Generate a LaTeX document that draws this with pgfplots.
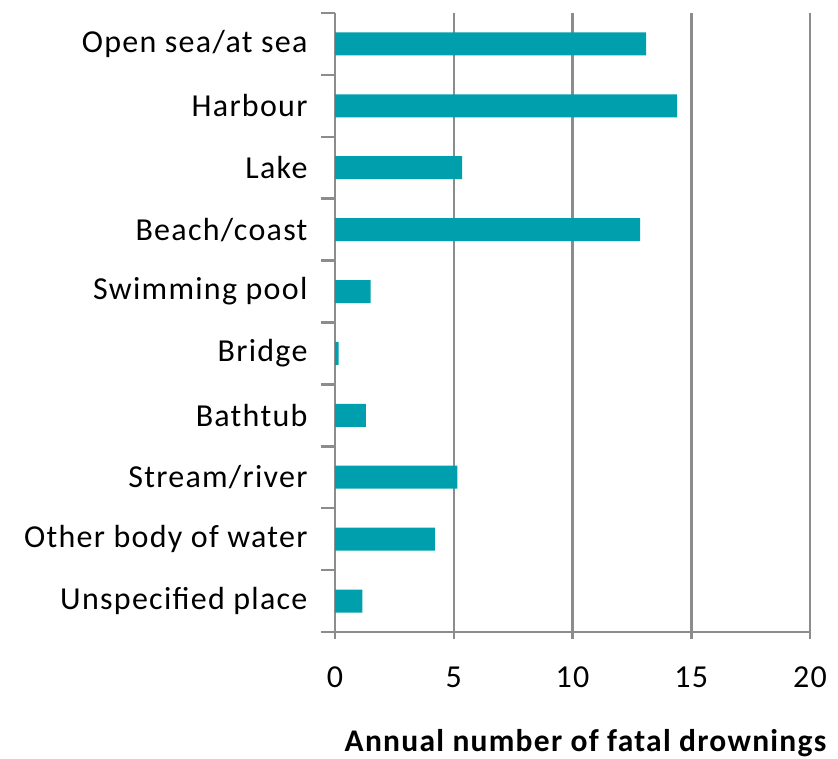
\documentclass[border=0pt]{standalone}
\usepackage{fontspec}
\setmainfont{Carlito}[LetterSpace=4]
\usepackage{pgfplots}
\pgfplotsset{compat=1.18}
\definecolor{barc}{RGB}{0,159,173}
\definecolor{gridc}{RGB}{140,140,140}
\begin{document}
\begin{tikzpicture}[x=1pt,y=1pt]
\path[use as bounding box] (0,0) rectangle (838,758);
\begin{axis}[
  at={(335pt,126pt)}, anchor=south west,
  scale only axis, width=475pt, height=619pt,
  xmin=0, xmax=20, ymin=-0.5, ymax=9.5,
  axis x line*=bottom, axis y line*=left,
  axis line style={gridc, line width=2.5pt},
  every tick/.style={gridc, line width=2.5pt},
  xtick={0,5,10,15,20},
  ytick={-0.5,0.5,...,9.5},
  yticklabels={},
  extra y ticks={0,...,9},
  extra y tick labels={Unspecified place,Other body of water,Stream/river,Bathtub,Bridge,Swimming pool,Beach/coast,Lake,Harbour,Open sea/at sea},
  extra y tick style={major tick length=0pt, every tick/.style={draw=none}},
  major tick length=14pt,
  ytick align=outside,
  xtick align=center,
  xmajorgrids, grid style={gridc, line width=2.5pt},
  y tick label style={xshift=-24pt},
  x tick label style={yshift=-24pt},
  tick label style={font=\fontsize{32}{37}\selectfont, text=black},
  /pgf/number format/assume math mode=true,
  xlabel={Annual number of fatal drownings},
  xlabel style={font=\bfseries\fontsize{31.5}{36}\selectfont, at={(rel axis cs:0.5,0)}, anchor=base, yshift=-119pt, xshift=13pt},
  xbar, bar width=23pt,
]
\addplot[fill=barc, draw=none] coordinates {
(1.15,0) (4.2,1) (5.15,2) (1.3,3) (0.15,4) (1.5,5) (12.85,6) (5.35,7) (14.4,8) (13.1,9)};
\end{axis}
\end{tikzpicture}
\end{document}
